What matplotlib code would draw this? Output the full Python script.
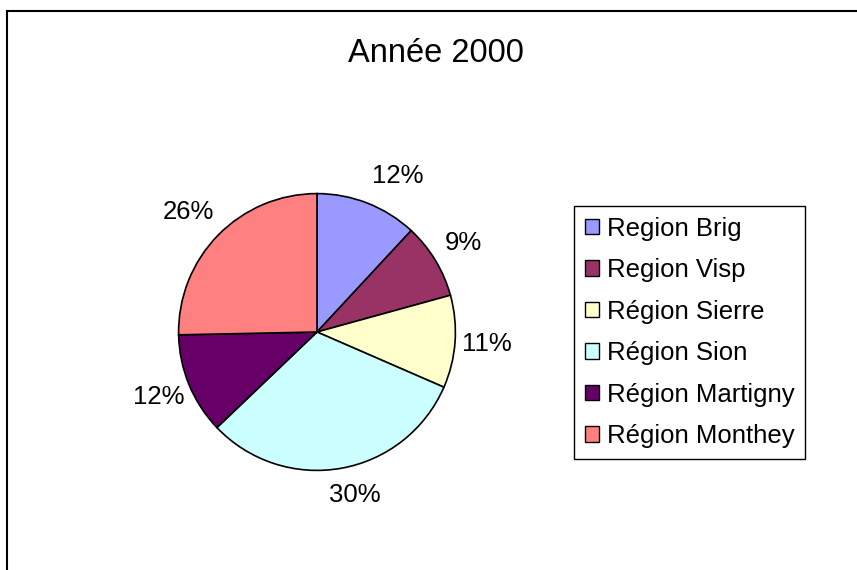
import matplotlib
matplotlib.use("Agg")
import numpy as np
import matplotlib.pyplot as plt
from matplotlib.patches import Patch, Rectangle

plt.rcParams['font.family'] = ['Liberation Sans', 'DejaVu Sans']

regions = ['Region Brig', 'Region Visp', 'Région Sierre', 'Région Sion',
           'Région Martigny', 'Région Monthey']
shares = [11.9, 8.8, 10.8, 31.3, 11.8, 25.3]
pct_labels = ['12%', '9%', '11%', '30%', '12%', '26%']
colors = ['#9999FF', '#993366', '#FFFFCC', '#CCFFFF', '#660066', '#FF8080']

fig = plt.figure(figsize=(8.57, 5.70), dpi=100)

# cadre du graphique (coupe a droite et en bas)
fig.add_artist(Rectangle((7.5 / 857, -0.2), 1.5, 1.2 - 10.5 / 570,
                         transform=fig.transFigure, fill=False,
                         edgecolor='black', lw=1.5))

ax = fig.add_axes([144 / 857, 65 / 570, 346 / 857, 346 / 570])
wedges, texts = ax.pie(shares, labels=pct_labels, colors=colors,
                       startangle=90, counterclock=False,
                       labeldistance=1.24,
                       wedgeprops=dict(edgecolor='black', linewidth=1.2),
                       textprops=dict(fontsize=18.5))

# petit decalage des etiquettes comme dans excel (degres, rayon)
nudge = [(-6, 0.03), (0, 0), (0, -0.01), (3, -0.03), (0, 0), (1.5, 0.03)]
for w, t, (da, dr) in zip(wedges, texts, nudge):
    ang = np.deg2rad((w.theta1 + w.theta2) / 2 + da)
    t.set_position(((1.24 + dr) * np.cos(ang), (1.24 + dr) * np.sin(ang)))
    t.set_ha('center')
    t.set_va('center')
ax.set_xlim(-1.25, 1.25)
ax.set_ylim(-1.25, 1.25)
ax.set_aspect('equal')

fig.text(435.5 / 857, 1 - 62 / 570, 'Année 2000', ha='center',
         va='baseline', fontsize=23.5)

handles = [Patch(facecolor=c, edgecolor='black', lw=1) for c in colors]
leg = fig.legend(handles, regions, loc='upper left',
                 bbox_to_anchor=(574 / 857, 1 - 206 / 570),
                 fontsize=18.5, frameon=True, fancybox=False,
                 handlelength=0.55, handleheight=0.55, handletextpad=0.3,
                 labelspacing=0.68, borderpad=0.42, borderaxespad=0)
leg.get_frame().set_edgecolor('black')
leg.get_frame().set_linewidth(1)
leg.get_frame().set_alpha(1)

fig.savefig('out.png', dpi=100)
